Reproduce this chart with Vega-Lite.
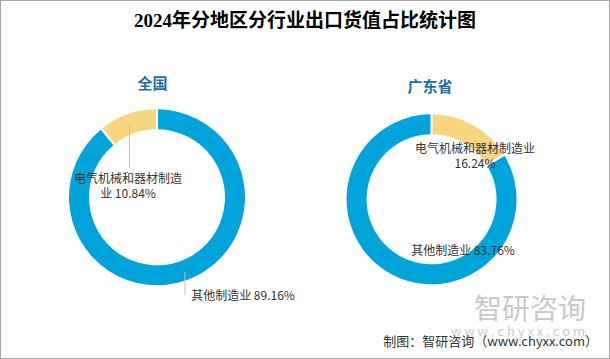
{
  "$schema": "https://vega.github.io/schema/vega-lite/v6.json",
  "width": 610,
  "height": 359,
  "autosize": {"type": "fit", "contains": "padding"},
  "padding": 0,
  "background": "white",
  "view": {"stroke": "#a6a6a6", "strokeWidth": 2},
  "config": {"font": "Noto Sans CJK SC"},
  "datasets": {
    "shares": [
      {"region": "全国", "category": "其他制造业", "share": 89.16, "label": "其他制造业 89.16%"},
      {"region": "全国", "category": "电气机械和器材制造业", "share": 10.84, "label": "电气机械和器材制造\n业 10.84%"},
      {"region": "广东省", "category": "其他制造业", "share": 83.76, "label": "其他制造业 83.76%"},
      {"region": "广东省", "category": "电气机械和器材制造业", "share": 16.24, "label": "电气机械和器材制造业\n16.24%"}
    ],
    "regions": [{"region": "全国"}, {"region": "广东省"}],
    "notes": [
      {"kind": "title", "text": "2024年分地区分行业出口货值占比统计图"},
      {"kind": "source", "text": "制图：智研咨询（www.chyxx.com）"},
      {"kind": "mark", "text": "智研咨询"},
      {"kind": "url", "text": "w w w . c h y x x . c o m"}
    ]
  },
  "layer": [
    {
      "data": {"name": "shares"},
      "transform": [{"filter": "datum.region == '全国'"}],
      "mark": {"type": "arc", "outerRadius": 88, "innerRadius": 68, "yOffset": 17.8, "padAngle": 0.02},
      "encoding": {
        "x": {"field": "region", "type": "nominal", "scale": {"type": "point", "domain": ["全国", "广东省"], "padding": 0.611, "align": 0.468}, "axis": null},
        "theta": {"field": "share", "type": "quantitative", "stack": true, "scale": {"domain": [0, 100]}},
        "color": {"field": "category", "type": "nominal", "scale": {"domain": ["其他制造业", "电气机械和器材制造业"], "range": ["#00a4db", "#f8d57e"]}, "legend": null},
        "order": {"field": "category", "sort": "ascending"}
      }
    },
    {
      "data": {"name": "shares"},
      "transform": [{"filter": "datum.region == '广东省'"}],
      "mark": {"type": "arc", "outerRadius": 85, "innerRadius": 65, "yOffset": 19.8, "padAngle": 0.02},
      "encoding": {
        "x": {"field": "region", "type": "nominal", "axis": null},
        "theta": {"field": "share", "type": "quantitative", "stack": true},
        "color": {"field": "category", "type": "nominal", "legend": null},
        "order": {"field": "category", "sort": "descending"}
      }
    },
    {
      "data": {"name": "shares"},
      "transform": [{"filter": "datum.region == '全国' && datum.category == '电气机械和器材制造业'"}],
      "mark": {"type": "rule", "color": "#efb98c", "strokeWidth": 1, "xOffset": -27.5, "y": {"expr": "height/2 - 56.5"}, "y2": {"expr": "height/2 - 11.5"}},
      "encoding": {"x": {"field": "region", "type": "nominal", "axis": null}}
    },
    {
      "data": {"name": "shares"},
      "transform": [{"filter": "datum.region == '全国' && datum.category == '其他制造业'"}],
      "mark": {"type": "rule", "color": "#efb98c", "strokeWidth": 1, "xOffset": 28, "y": {"expr": "height/2 + 92.5"}, "y2": {"expr": "height/2 + 115.5"}},
      "encoding": {"x": {"field": "region", "type": "nominal", "axis": null}}
    },
    {
      "data": {"name": "shares"},
      "transform": [{"filter": "datum.region == '全国' && datum.category == '电气机械和器材制造业'"}],
      "mark": {"type": "text", "fontSize": 12, "color": "#333333", "lineBreak": "\n", "lineHeight": 15, "baseline": "middle", "dx": -29, "dy": -0.5},
      "encoding": {"x": {"field": "region", "type": "nominal", "axis": null}, "text": {"field": "label", "type": "nominal"}}
    },
    {
      "data": {"name": "shares"},
      "transform": [{"filter": "datum.region == '全国' && datum.category == '其他制造业'"}],
      "mark": {"type": "text", "fontSize": 12, "color": "#333333", "baseline": "middle", "dx": 86, "dy": 116.2},
      "encoding": {"x": {"field": "region", "type": "nominal", "axis": null}, "text": {"field": "label", "type": "nominal"}}
    },
    {
      "data": {"name": "shares"},
      "transform": [{"filter": "datum.region == '广东省' && datum.category == '电气机械和器材制造业'"}],
      "mark": {"type": "text", "fontSize": 12, "color": "#333333", "lineBreak": "\n", "lineHeight": 15, "baseline": "middle", "dx": 43.5, "dy": -30.5},
      "encoding": {"x": {"field": "region", "type": "nominal", "axis": null}, "text": {"field": "label", "type": "nominal"}}
    },
    {
      "data": {"name": "shares"},
      "transform": [{"filter": "datum.region == '广东省' && datum.category == '其他制造业'"}],
      "mark": {"type": "text", "fontSize": 12, "color": "#333333", "baseline": "middle", "dx": 31.5, "dy": 71.2},
      "encoding": {"x": {"field": "region", "type": "nominal", "axis": null}, "text": {"field": "label", "type": "nominal"}}
    },
    {
      "data": {"name": "regions"},
      "transform": [{"filter": "datum.region == '全国'"}],
      "mark": {"type": "text", "fontSize": 15, "fontWeight": "bold", "color": "#1a6f9e", "baseline": "middle", "dx": -4.5, "dy": -96},
      "encoding": {"x": {"field": "region", "type": "nominal", "axis": null}, "text": {"field": "region", "type": "nominal"}}
    },
    {
      "data": {"name": "regions"},
      "transform": [{"filter": "datum.region == '广东省'"}],
      "mark": {"type": "text", "fontSize": 15, "fontWeight": "bold", "color": "#1a6f9e", "baseline": "middle", "dx": -1.5, "dy": -92.5},
      "encoding": {"x": {"field": "region", "type": "nominal", "axis": null}, "text": {"field": "region", "type": "nominal"}}
    },
    {
      "data": {"name": "notes"},
      "transform": [{"filter": "datum.kind == 'title'"}],
      "mark": {"type": "text", "font": "Liberation Serif, Noto Sans CJK SC", "fontSize": 19, "fontWeight": "bold", "color": "#000000", "baseline": "middle", "dy": -158.5},
      "encoding": {"text": {"field": "text", "type": "nominal"}}
    },
    {
      "data": {"name": "notes"},
      "transform": [{"filter": "datum.kind == 'mark'"}],
      "mark": {"type": "text", "fontSize": 28, "color": "#c9c9c9", "baseline": "middle", "dx": 225, "dy": 131.5},
      "encoding": {"text": {"field": "text", "type": "nominal"}}
    },
    {
      "data": {"name": "notes"},
      "transform": [{"filter": "datum.kind == 'url'"}],
      "mark": {"type": "text", "fontSize": 13, "color": "#cccccc", "baseline": "middle", "dx": 213, "dy": 152.5},
      "encoding": {"text": {"field": "text", "type": "nominal"}}
    },
    {
      "data": {"name": "notes"},
      "transform": [{"filter": "datum.kind == 'source'"}],
      "mark": {"type": "text", "fontSize": 13, "color": "#333333", "align": "right", "baseline": "middle", "dx": 293, "dy": 162},
      "encoding": {"text": {"field": "text", "type": "nominal"}}
    }
  ]
}
